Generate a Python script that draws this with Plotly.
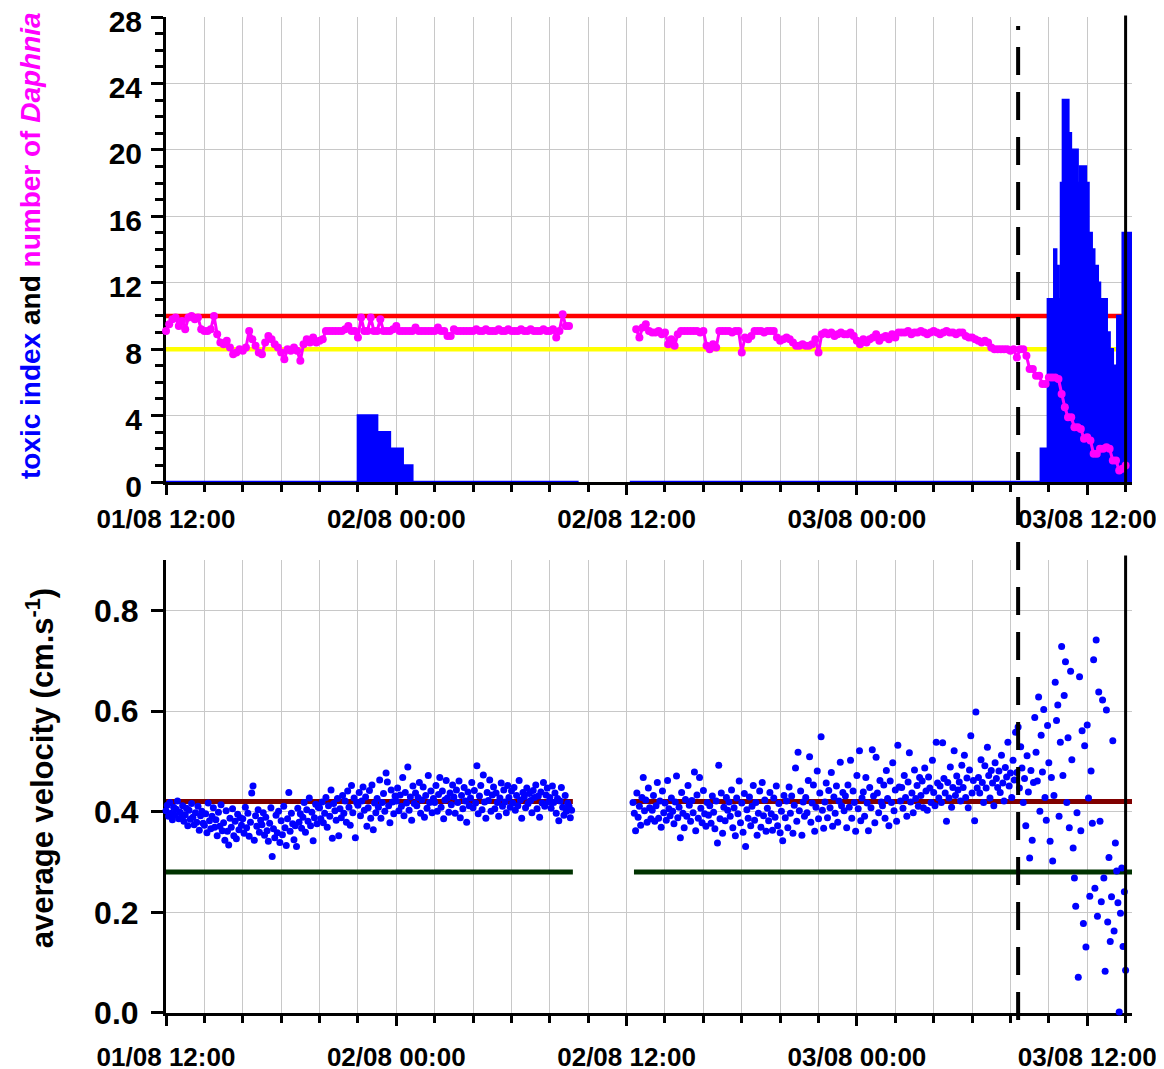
import pandas as pd
import plotly.graph_objects as go

FONT = "Liberation Sans, Arial, sans-serif"

# ---------------- data: top panel ----------------
daphnia_step_min = 10
daphnia_seg1_start = "2008-08-01 12:00"
daphnia_seg1 = [
    9.1, 9.5, 9.8, 9.9, 9.4, 9.7,
    9.2, 9.9, 10.0, 9.8, 9.9, 9.2,
    9.1, 9.1, 9.2, 10.0, 8.9, 8.4,
    8.3, 8.5, 8.1, 7.7, 7.8, 8.0,
    7.9, 8.1, 9.1, 8.6, 8.2, 7.8,
    7.7, 8.4, 8.8, 8.6, 8.3, 8.1,
    7.8, 7.4, 8.0, 7.9, 8.1, 7.9,
    7.3, 8.3, 8.6, 8.4, 8.7, 8.4,
    8.5, 8.6, 9.1, 9.1, 9.1, 9.1,
    9.1, 9.1, 9.2, 9.4, 9.1, 9.1,
    8.7, 9.9, 9.1, 9.1, 9.9, 9.1,
    9.1, 9.8, 9.1, 9.1, 9.1, 9.2,
    9.4, 9.1, 9.1, 9.1, 9.1, 9.1,
    9.3, 9.1, 9.1, 9.1, 9.1, 9.1,
    9.1, 9.3, 9.1, 9.1, 8.8, 8.8,
    9.2, 9.1, 9.1, 9.1, 9.1, 9.1,
    9.1, 9.2, 9.1, 9.1, 9.2, 9.1,
    9.1, 9.1, 9.2, 9.1, 9.1, 9.2,
    9.1, 9.1, 9.1, 9.2, 9.1, 9.1,
    9.2, 9.1, 9.1, 9.1, 9.2, 9.1,
    9.1, 9.2, 8.7, 9.1, 10.1, 9.4,
    9.4,
]
daphnia_seg2_start = "2008-08-02 12:30"
daphnia_seg2 = [
    9.2, 8.7, 9.3, 9.5, 9.1, 9.0,
    9.0, 9.1, 8.9, 9.0, 8.3, 8.6,
    8.2, 8.9, 9.1, 9.1, 9.1, 9.1,
    9.1, 9.1, 9.0, 9.1, 8.2, 8.0,
    8.3, 8.1, 9.1, 9.1, 9.1, 9.1,
    9.0, 9.1, 9.1, 7.8, 8.7, 8.6,
    8.8, 9.1, 9.1, 9.1, 9.0, 9.1,
    9.1, 9.1, 8.7, 8.5, 8.6, 8.7,
    8.6, 8.4, 8.2, 8.2, 8.3, 8.2,
    8.2, 8.3, 8.6, 7.8, 8.9, 9.0,
    8.9, 9.0, 8.8, 8.9, 9.0, 8.9,
    8.9, 9.0, 8.8, 8.5, 8.3, 8.6,
    8.4, 8.6, 8.7, 8.9, 8.5, 8.7,
    8.8, 8.6, 8.9, 8.7, 9.0, 9.0,
    9.0, 9.1, 8.9, 9.0, 9.0, 9.1,
    9.0, 8.9, 9.0, 9.1, 9.0, 8.9,
    9.0, 9.1, 9.0, 9.0, 8.9, 9.0,
    9.0, 8.8, 8.7, 8.7, 8.6, 8.5,
    8.4, 8.5, 8.4, 8.1, 8.0, 8.0,
    8.0, 8.0, 8.0, 7.9, 8.0, 7.5,
    8.0, 8.0, 7.6, 6.8, 6.8, 6.4,
    6.4, 5.9, 5.9, 6.3, 6.3, 6.3,
    6.2, 5.3, 4.5, 3.9, 3.9, 3.3,
    3.3, 3.2, 2.6, 2.7, 2.5, 1.7,
    1.7, 2.0, 2.0, 2.1, 2.0, 1.3,
    1.3, 0.7, 0.8, 1.0,
]

tox_times = [
    "2008-08-01 12:00", "2008-08-01 22:00", "2008-08-01 23:00", "2008-08-01 23:40",
    "2008-08-02 00:20", "2008-08-02 00:50", "2008-08-02 09:30",
    None,
    "2008-08-02 12:10", "2008-08-03 09:35", "2008-08-03 09:57", "2008-08-03 10:17",
    "2008-08-03 10:23", "2008-08-03 10:30", "2008-08-03 10:38", "2008-08-03 10:44",
    "2008-08-03 11:01", "2008-08-03 11:09", "2008-08-03 11:30", "2008-08-03 11:38",
    "2008-08-03 11:56", "2008-08-03 12:04", "2008-08-03 12:14", "2008-08-03 12:22",
    "2008-08-03 12:33", "2008-08-03 12:40", "2008-08-03 13:01", "2008-08-03 13:10",
    "2008-08-03 13:20", "2008-08-03 13:30", "2008-08-03 13:34", "2008-08-03 13:45",
    "2008-08-03 13:51", "2008-08-03 14:20",
]
tox_values = [
    0, 4, 3, 2, 1, 0, 0,
    None,
    0, 2, 11, 14, 13, 11, 18, 23, 21, 20, 18, 19, 18, 15, 14, 13, 12, 11,
    9, 8, 7, 6, 10, 6, 15, 15,
]

daphnia_alarm = 10
daphnia_warning = 8

# ---------------- data: bottom panel ----------------
vel_step_min = 4
vel_seg1_start = "2008-08-01 12:00"
vel_seg1 = [
    0.402, 0.413, 0.391, 0.418, 0.397, 0.384, 0.409, 0.393, 0.405, 0.421, 0.386, 0.399, 0.388, 0.412, 0.381,
    0.394, 0.407, 0.372, 0.403, 0.385, 0.416, 0.389, 0.374, 0.398, 0.379, 0.411, 0.363, 0.392, 0.401, 0.377,
    0.373, 0.396, 0.358, 0.417, 0.382, 0.366, 0.391, 0.408, 0.369, 0.384, 0.352, 0.399, 0.371, 0.414, 0.362,
    0.378, 0.343, 0.402, 0.361, 0.334, 0.387, 0.369, 0.406, 0.352, 0.381, 0.346, 0.395, 0.364, 0.388, 0.373,
    0.386, 0.357, 0.409, 0.368, 0.397, 0.351, 0.379, 0.437, 0.451, 0.343, 0.392, 0.371, 0.404, 0.359, 0.383,
    0.374, 0.398, 0.353, 0.389, 0.362, 0.341, 0.377, 0.408, 0.311, 0.366, 0.348, 0.393, 0.358, 0.401, 0.339,
    0.382, 0.354, 0.411, 0.368, 0.333, 0.386, 0.438, 0.361, 0.397, 0.376, 0.344, 0.372, 0.331, 0.407, 0.379,
    0.396, 0.367, 0.389, 0.418, 0.359, 0.404, 0.381, 0.427, 0.372, 0.399, 0.342, 0.388, 0.415, 0.376, 0.409,
    0.408, 0.386, 0.419, 0.378, 0.397, 0.428, 0.369, 0.412, 0.391, 0.443, 0.347, 0.416, 0.402, 0.383, 0.426,
    0.352, 0.406, 0.388, 0.432, 0.397, 0.421, 0.379, 0.441, 0.409, 0.373, 0.452, 0.398, 0.427, 0.348, 0.418,
    0.413, 0.438, 0.392, 0.421, 0.449, 0.403, 0.429, 0.371, 0.408, 0.442, 0.387, 0.453, 0.364, 0.417, 0.398,
    0.426, 0.409, 0.463, 0.387, 0.418, 0.436, 0.401, 0.477, 0.459, 0.412, 0.378, 0.443, 0.419, 0.396, 0.431,
    0.421, 0.447, 0.402, 0.433, 0.411, 0.468, 0.392, 0.438, 0.417, 0.489, 0.403, 0.429, 0.383, 0.451, 0.416,
    0.437, 0.412, 0.428, 0.458, 0.397, 0.423, 0.449, 0.389, 0.432, 0.407, 0.472, 0.418, 0.441, 0.398, 0.426,
    0.418, 0.452, 0.401, 0.434, 0.468, 0.409, 0.441, 0.386, 0.423, 0.462, 0.427, 0.399, 0.437, 0.414, 0.453,
    0.429, 0.397, 0.443, 0.418, 0.461, 0.388, 0.432, 0.406, 0.448, 0.421, 0.379, 0.439, 0.412, 0.427, 0.458,
    0.408, 0.442, 0.417, 0.491, 0.396, 0.431, 0.452, 0.404, 0.473, 0.419, 0.387, 0.438, 0.422, 0.463, 0.401,
    0.433, 0.449, 0.406, 0.437, 0.418, 0.391, 0.427, 0.457, 0.411, 0.443, 0.419, 0.398, 0.452, 0.428, 0.409,
    0.441, 0.417, 0.448, 0.403, 0.432, 0.412, 0.462, 0.423, 0.387, 0.438, 0.429, 0.408, 0.447, 0.416, 0.436,
    0.422, 0.398, 0.442, 0.428, 0.453, 0.406, 0.431, 0.389, 0.439, 0.417, 0.458, 0.411, 0.433, 0.447, 0.419,
    0.428, 0.407, 0.451, 0.418, 0.437, 0.397, 0.426, 0.382, 0.421, 0.448, 0.409, 0.393, 0.432, 0.401, 0.417,
    0.411, 0.388, 0.403,
]
vel_seg2_start = "2008-08-02 12:20"
vel_seg2 = [
    0.418, 0.397, 0.362, 0.437, 0.389, 0.411, 0.373, 0.428, 0.468, 0.402, 0.423, 0.379, 0.447, 0.408, 0.386,
    0.403, 0.432, 0.381, 0.412, 0.458, 0.387, 0.421, 0.369, 0.441, 0.398, 0.417, 0.383, 0.462, 0.406, 0.392,
    0.427, 0.401, 0.376, 0.419, 0.471, 0.388, 0.409, 0.348, 0.438, 0.397, 0.368, 0.424, 0.391, 0.452, 0.413,
    0.381, 0.422, 0.398, 0.479, 0.362, 0.433, 0.387, 0.468, 0.407, 0.378, 0.442, 0.396, 0.371, 0.418, 0.393,
    0.412, 0.377, 0.431, 0.399, 0.366, 0.421, 0.338, 0.492, 0.386, 0.437, 0.357, 0.409, 0.382, 0.428, 0.403,
    0.419, 0.391, 0.443, 0.368, 0.408, 0.352, 0.427, 0.396, 0.461, 0.378, 0.417, 0.359, 0.436, 0.331, 0.404,
    0.387, 0.429, 0.372, 0.411, 0.452, 0.383, 0.418, 0.353, 0.397, 0.441, 0.369, 0.458, 0.392, 0.423, 0.361,
    0.407, 0.382, 0.438, 0.396, 0.363, 0.427, 0.389, 0.451, 0.372, 0.416, 0.358, 0.401, 0.342, 0.432, 0.388,
    0.421, 0.368, 0.449, 0.397, 0.431, 0.357, 0.413, 0.487, 0.381, 0.518, 0.402, 0.441, 0.353, 0.419, 0.391,
    0.428, 0.398, 0.462, 0.509, 0.379, 0.417, 0.453, 0.361, 0.409, 0.481, 0.386, 0.437, 0.549, 0.403, 0.367,
    0.419, 0.457, 0.388, 0.442, 0.408, 0.478, 0.371, 0.429, 0.397, 0.451, 0.379, 0.421, 0.498, 0.412, 0.438,
    0.402, 0.431, 0.368, 0.453, 0.409, 0.502, 0.387, 0.441, 0.418, 0.361, 0.472, 0.406, 0.521, 0.382, 0.427,
    0.439, 0.391, 0.468, 0.417, 0.362, 0.448, 0.408, 0.523, 0.431, 0.378, 0.508, 0.437, 0.398, 0.462, 0.419,
    0.412, 0.453, 0.387, 0.482, 0.426, 0.372, 0.461, 0.418, 0.497, 0.402, 0.443, 0.381, 0.532, 0.449, 0.421,
    0.448, 0.407, 0.472, 0.428, 0.391, 0.459, 0.517, 0.419, 0.437, 0.398, 0.483, 0.426, 0.452, 0.411, 0.468,
    0.432, 0.461, 0.408, 0.487, 0.441, 0.403, 0.469, 0.447, 0.418, 0.502, 0.438, 0.412, 0.538, 0.457, 0.427,
    0.451, 0.418, 0.537, 0.466, 0.437, 0.381, 0.458, 0.427, 0.489, 0.409, 0.448, 0.521, 0.432, 0.471, 0.443,
    0.459, 0.421, 0.492, 0.448, 0.512, 0.428, 0.467, 0.408, 0.483, 0.551, 0.437, 0.462, 0.382, 0.598, 0.447,
    0.468, 0.437, 0.503, 0.458, 0.418, 0.491, 0.447, 0.528, 0.472, 0.427, 0.482, 0.457, 0.412, 0.497, 0.466,
    0.448, 0.481, 0.438, 0.512, 0.457, 0.421, 0.488, 0.469, 0.538, 0.451, 0.477, 0.428, 0.502, 0.463, 0.558,
    0.478, 0.568, 0.447, 0.529, 0.487, 0.418, 0.466, 0.372, 0.511, 0.439, 0.308, 0.482, 0.343, 0.458, 0.587,
    0.518, 0.461, 0.628, 0.401, 0.552, 0.479, 0.603, 0.428, 0.383, 0.571, 0.497, 0.341, 0.468, 0.302, 0.432,
    0.657, 0.581, 0.612, 0.391, 0.538, 0.728, 0.472, 0.631, 0.698, 0.418, 0.547, 0.368, 0.679, 0.503, 0.328,
    0.268, 0.212, 0.398, 0.071, 0.668, 0.362, 0.561, 0.178, 0.531, 0.131, 0.572, 0.427, 0.232, 0.481, 0.377,
    0.702, 0.248, 0.741, 0.192, 0.638, 0.381, 0.221, 0.622, 0.268, 0.083, 0.602, 0.181, 0.309, 0.142, 0.231,
    0.541, 0.163, 0.338, 0.282, 0.219, 0.002, 0.198, 0.288, 0.132, 0.241, 0.085,
]

vel_upper = 0.42
vel_lower = 0.28
vel_ref_x = ["2008-08-01 11:50", "2008-08-02 09:12", None, "2008-08-02 12:23", "2008-08-03 14:20"]

x_start = "2008-08-01 12:00"
x_end = "2008-08-03 14:20"
event_time = "2008-08-03 08:24"
stop_time = "2008-08-03 14:00"

# ---------------- helpers ----------------
def times(start, n, step):
    return list(pd.date_range(start, periods=n, freq=f"{step}min"))

d_x = times(daphnia_seg1_start, len(daphnia_seg1), daphnia_step_min) + [None] + \
      times(daphnia_seg2_start, len(daphnia_seg2), daphnia_step_min)
d_y = daphnia_seg1 + [None] + daphnia_seg2

v_x = times(vel_seg1_start, len(vel_seg1), vel_step_min) + \
      times(vel_seg2_start, len(vel_seg2), vel_step_min)
v_y = vel_seg1 + vel_seg2

fig = go.Figure()

# top panel
fig.add_trace(go.Scatter(x=[x_start, stop_time], y=[daphnia_alarm] * 2, mode="lines",
                         line=dict(color="#ff0000", width=4.5), xaxis="x", yaxis="y"))
fig.add_trace(go.Scatter(x=[x_start, stop_time], y=[daphnia_warning] * 2, mode="lines",
                         line=dict(color="#ffff00", width=4.5), xaxis="x", yaxis="y"))
fig.add_trace(go.Scatter(x=tox_times, y=tox_values, mode="lines",
                         line=dict(color="#0000ff", width=2.5, shape="hv"),
                         fill="tozeroy", fillcolor="#0000ff", connectgaps=False,
                         xaxis="x", yaxis="y"))
fig.add_trace(go.Scatter(x=d_x, y=d_y, mode="lines+markers",
                         line=dict(color="#ff00ff", width=3),
                         marker=dict(color="#ff00ff", size=8), connectgaps=False,
                         cliponaxis=False, xaxis="x", yaxis="y"))

# bottom panel
fig.add_trace(go.Scatter(x=vel_ref_x, y=[vel_upper, vel_upper, None, vel_upper, vel_upper],
                         mode="lines", line=dict(color="#800000", width=5),
                         connectgaps=False, xaxis="x2", yaxis="y2"))
fig.add_trace(go.Scatter(x=vel_ref_x, y=[vel_lower, vel_lower, None, vel_lower, vel_lower],
                         mode="lines", line=dict(color="#003300", width=5),
                         connectgaps=False, xaxis="x2", yaxis="y2"))
fig.add_trace(go.Scatter(x=v_x, y=v_y, mode="markers",
                         marker=dict(color="#0000ff", size=7),
                         cliponaxis=False, xaxis="x2", yaxis="y2"))

GRID = "#c8c8c8"
tick_font = dict(family=FONT, size=26, color="black", weight="bold")

def xaxis_cfg(anchor, standoff):
    return dict(
        anchor=anchor, domain=[0, 1], type="date", range=[x_start, x_end],
        tick0=x_start, dtick=12 * 3600 * 1000, tickformat="%d/%m %H:%M",
        ticks="outside", ticklen=10, tickwidth=3, tickcolor="black",
        showline=True, linecolor="black", linewidth=3,
        showgrid=True, gridcolor=GRID, gridwidth=1, zeroline=False,
        minor=dict(dtick=2 * 3600 * 1000, ticks="outside", ticklen=7, tickwidth=3,
                   tickcolor="black", showgrid=True, gridcolor=GRID, gridwidth=1),
        tickfont=tick_font, ticklabelstandoff=standoff, layer="below traces",
        automargin=False, ticklabeloverflow="allow",
    )

# the page body adds an 8px offset; the figure is sized so its plot areas land in place
fig.update_layout(
    width=1156, height=1061,
    margin=dict(l=158, r=32, t=9, b=56, autoexpand=False),
    paper_bgcolor="white", plot_bgcolor="white",
    showlegend=False, hovermode=False,
    font=dict(family=FONT, color="black"),
    xaxis=xaxis_cfg("y", 2),
    xaxis2=xaxis_cfg("y2", 9),
    yaxis=dict(
        domain=[0.5331, 1], anchor="x", range=[0, 28], dtick=4, tick0=0,
        ticks="outside", ticklen=12, tickwidth=3, tickcolor="black",
        minor=dict(dtick=1, ticks="outside", ticklen=8, tickwidth=3,
                   tickcolor="black", showgrid=False),
        showline=True, linecolor="black", linewidth=3,
        showgrid=True, gridcolor=GRID, gridwidth=1, zeroline=False,
        tickfont=dict(family=FONT, size=30, color="black", weight="bold"),
        ticklabelstandoff=3, ticklabelshift=4, ticklabeloverflow="allow",
        layer="below traces", automargin=False,
    ),
    yaxis2=dict(
        domain=[0, 0.4548], anchor="x2", range=[0, 0.9], dtick=0.2, tick0=0,
        tickformat=".1f",
        ticks="outside", ticklen=12, tickwidth=3, tickcolor="black",
        showline=True, linecolor="black", linewidth=3,
        showgrid=True, gridcolor=GRID, gridwidth=1, zeroline=False,
        tickfont=dict(family=FONT, size=32, color="black", weight="bold"),
        ticklabelstandoff=6, ticklabeloverflow="allow",
        layer="below traces", automargin=False,
    ),
)

fig.add_shape(type="line", xref="x", yref="paper", x0=event_time, x1=event_time,
              y0=-0.007, y1=0.991, line=dict(color="black", width=4, dash="28px,17px"))
fig.add_shape(type="line", xref="x", yref="y domain", x0=stop_time, x1=stop_time,
              y0=0, y1=1.003, line=dict(color="black", width=3))
fig.add_shape(type="line", xref="x2", yref="y2 domain", x0=stop_time, x1=stop_time,
              y0=0, y1=1.01, line=dict(color="black", width=3))

fig.add_annotation(
    xref="paper", yref="paper", x=-0.1408, y=0.771, xanchor="center", yanchor="middle",
    textangle=-90, showarrow=False,
    text="<span style='color:#0000ff'>toxic index</span> and "
         "<span style='color:#ff00ff'>number of <i>Daphnia</i></span>",
    font=dict(family=FONT, size=28, color="black", weight="bold"),
)
fig.add_annotation(
    xref="paper", yref="paper", x=-0.1304, y=0.2457, xanchor="center", yanchor="middle",
    textangle=-90, showarrow=False,
    text="average velocity (cm.s<sup>-1</sup>)",
    font=dict(family=FONT, size=31, color="black", weight="bold"),
)

fig.write_html("out.html")
